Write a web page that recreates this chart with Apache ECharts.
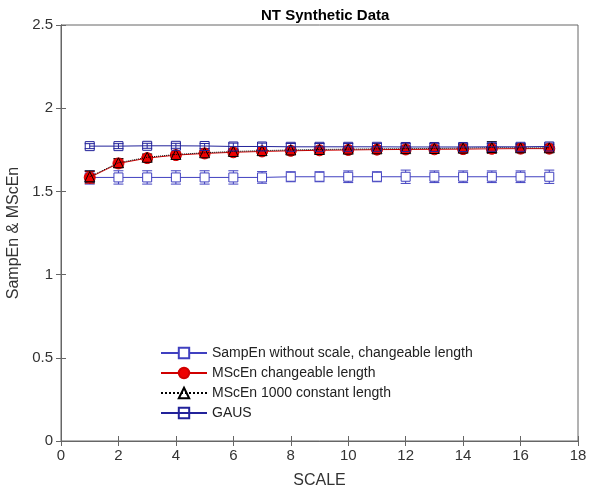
<!DOCTYPE html>
<html>
<head>
<meta charset="utf-8">
<script src="https://cdn.jsdelivr.net/npm/echarts@6/dist/echarts.min.js"></script>
<style>
    html, body {margin: 0; padding: 0; background: #fff;}
    #main {width: 593px; height: 492px;}
</style>
</head>
<body>
<div id="main"></div>
<script>
    const scales = [1, 2, 3, 4, 5, 6, 7, 8, 9, 10, 11, 12, 13, 14, 15, 16, 17];
    // SampEn without scale, changeable length (lower blue line)
    const sampEn = [1.584, 1.584, 1.584, 1.584, 1.584, 1.584, 1.584, 1.588, 1.588, 1.588, 1.588, 1.588, 1.588, 1.588, 1.588, 1.588, 1.588];
    const sampErr = [0.04, 0.04, 0.04, 0.04, 0.04, 0.04, 0.035, 0.03, 0.03, 0.035, 0.03, 0.04, 0.035, 0.035, 0.035, 0.035, 0.04];
    // MScEn changeable length (red)
    const mscen = [1.584, 1.668, 1.7, 1.718, 1.728, 1.735, 1.74, 1.744, 1.747, 1.749, 1.751, 1.752, 1.753, 1.754, 1.756, 1.757, 1.757];
    const mscenErr = [0.035, 0.025, 0.02, 0.015, 0.015, 0.015, 0.015, 0.015, 0.015, 0.015, 0.015, 0.015, 0.015, 0.015, 0.015, 0.015, 0.015];
    // MScEn 1000 constant length (black triangles, dotted)
    const mscen1000 = [1.588, 1.672, 1.705, 1.722, 1.732, 1.74, 1.745, 1.749, 1.752, 1.754, 1.756, 1.757, 1.758, 1.76, 1.764, 1.762, 1.762];
    const mscen1000Err = [0.035, 0.025, 0.02, 0.015, 0.015, 0.015, 0.015, 0.015, 0.015, 0.015, 0.015, 0.015, 0.015, 0.02, 0.035, 0.02, 0.02];
    // GAUS (upper blue line)
    const gaus = [1.772, 1.772, 1.774, 1.774, 1.773, 1.77, 1.77, 1.768, 1.768, 1.768, 1.768, 1.767, 1.767, 1.767, 1.768, 1.768, 1.77];
    const gausErr = [0.015, 0.015, 0.015, 0.015, 0.015, 0.02, 0.02, 0.02, 0.02, 0.02, 0.02, 0.02, 0.02, 0.02, 0.02, 0.02, 0.02];

    const pairs = (ys) => scales.map((x, i) => [x, ys[i]]);
    const errData = (ys, es) => scales.map((x, i) => [x, ys[i], es[i]]);

    // error bars drawn with a custom series
    const errorBars = (name, ys, es, color) => ({
        name: name + ' err',
        type: 'custom',
        z: 1,
        silent: true,
        data: errData(ys, es),
        renderItem: (params, api) => {
            const x = api.value(0), y = api.value(1), e = api.value(2);
            const lo = api.coord([x, y - e]);
            const hi = api.coord([x, y + e]);
            const w = 5;
            const st = {stroke: color, lineWidth: 1};
            return {
                type: 'group',
                children: [
                    {type: 'line', shape: {x1: lo[0], y1: lo[1], x2: hi[0], y2: hi[1]}, style: st},
                    {type: 'line', shape: {x1: lo[0] - w, y1: lo[1], x2: lo[0] + w, y2: lo[1]}, style: st},
                    {type: 'line', shape: {x1: hi[0] - w, y1: hi[1], x2: hi[0] + w, y2: hi[1]}, style: st}
                ]
            };
        }
    });

    const myChart = echarts.init(document.getElementById('main'));
    const font = 'Liberation Sans, Arial, sans-serif';
    const option = {
        animation: false,
        textStyle: {fontFamily: font},
        title: {
            text: 'NT Synthetic Data',
            left: 256,
            top: 3,
            textStyle: {fontSize: 15, fontWeight: 'bold', color: '#000', fontFamily: font}
        },
        legend: {
            orient: 'vertical',
            left: 160,
            top: 346,
            padding: 0,
            itemGap: 6,
            itemWidth: 46,
            itemHeight: 13,
            textStyle: {fontSize: 14, color: '#222'},
            data: ['SampEn without scale, changeable length', 'MScEn changeable length',
                'MScEn 1000 constant length', 'GAUS']
        },
        grid: {
            left: 61, right: 15, top: 25, bottom: 51,
            outerBoundsMode: 'none',
            show: true, borderColor: '#666', borderWidth: 1
        },
        xAxis: [{
            type: 'value', min: 0, max: 18, interval: 2,
            name: 'SCALE', nameLocation: 'middle', nameGap: 32,
            nameTextStyle: {fontSize: 16, color: '#333'},
            axisLine: {lineStyle: {color: '#666'}},
            axisTick: {inside: true, length: 5, lineStyle: {color: '#666'}},
            axisLabel: {fontSize: 15, color: '#333', margin: 7},
            splitLine: {show: false}
        }, {
            type: 'value', min: 0, max: 18, interval: 2, position: 'top',
            axisLine: {lineStyle: {color: '#666'}},
            axisTick: {inside: true, length: 5, lineStyle: {color: '#666'}},
            axisLabel: {show: false},
            splitLine: {show: false}
        }],
        yAxis: [{
            type: 'value', min: 0, max: 2.5, interval: 0.5,
            name: 'SampEn & MScEn', nameLocation: 'middle', nameGap: 34,
            nameTextStyle: {fontSize: 16, color: '#333'},
            axisLine: {show: true, lineStyle: {color: '#666'}},
            axisTick: {show: true, inside: true, length: 5, lineStyle: {color: '#666'}},
            axisLabel: {fontSize: 15, color: '#333', margin: 8},
            splitLine: {show: false}
        }, {
            type: 'value', min: 0, max: 2.5, interval: 0.5, position: 'right',
            axisLine: {show: true, lineStyle: {color: '#666'}},
            axisTick: {show: true, inside: true, length: 5, lineStyle: {color: '#666'}},
            axisLabel: {show: false},
            splitLine: {show: false}
        }],
        series: [
            errorBars('SampEn without scale, changeable length', sampEn, sampErr, '#4040c0'),
            errorBars('MScEn changeable length', mscen, mscenErr, '#d00000'),
            errorBars('MScEn 1000 constant length', mscen1000, mscen1000Err, '#000'),
            errorBars('GAUS', gaus, gausErr, '#22229a'),
            {
                name: 'SampEn without scale, changeable length',
                type: 'line',
                data: pairs(sampEn),
                symbol: 'rect', symbolSize: 9,
                lineStyle: {color: '#4040c0', width: 1},
                itemStyle: {color: '#fff', borderColor: '#4040c0', borderWidth: 1},
                z: 3
            },
            {
                name: 'MScEn changeable length',
                type: 'line',
                data: pairs(mscen),
                symbol: 'circle', symbolSize: 11,
                lineStyle: {color: '#d00000', width: 1},
                itemStyle: {color: '#ee0000', borderColor: '#d00000', borderWidth: 1},
                z: 3
            },
            {
                name: 'MScEn 1000 constant length',
                type: 'line',
                data: pairs(mscen1000),
                symbol: 'triangle', symbolSize: 10,
                lineStyle: {color: '#000', width: 1, type: 'dotted'},
                itemStyle: {color: 'rgba(0,0,0,0)', borderColor: '#000', borderWidth: 1},
                z: 4
            },
            {
                name: 'GAUS',
                type: 'line',
                data: pairs(gaus),
                symbol: 'rect', symbolSize: 9,
                lineStyle: {color: '#22229a', width: 1},
                itemStyle: {color: 'rgba(255,255,255,0)', borderColor: '#22229a', borderWidth: 1},
                z: 5
            }
        ]
    };
    option && myChart.setOption(option);
    window.onresize = () => {
        myChart.resize();
    }
</script>
</body>
</html>
